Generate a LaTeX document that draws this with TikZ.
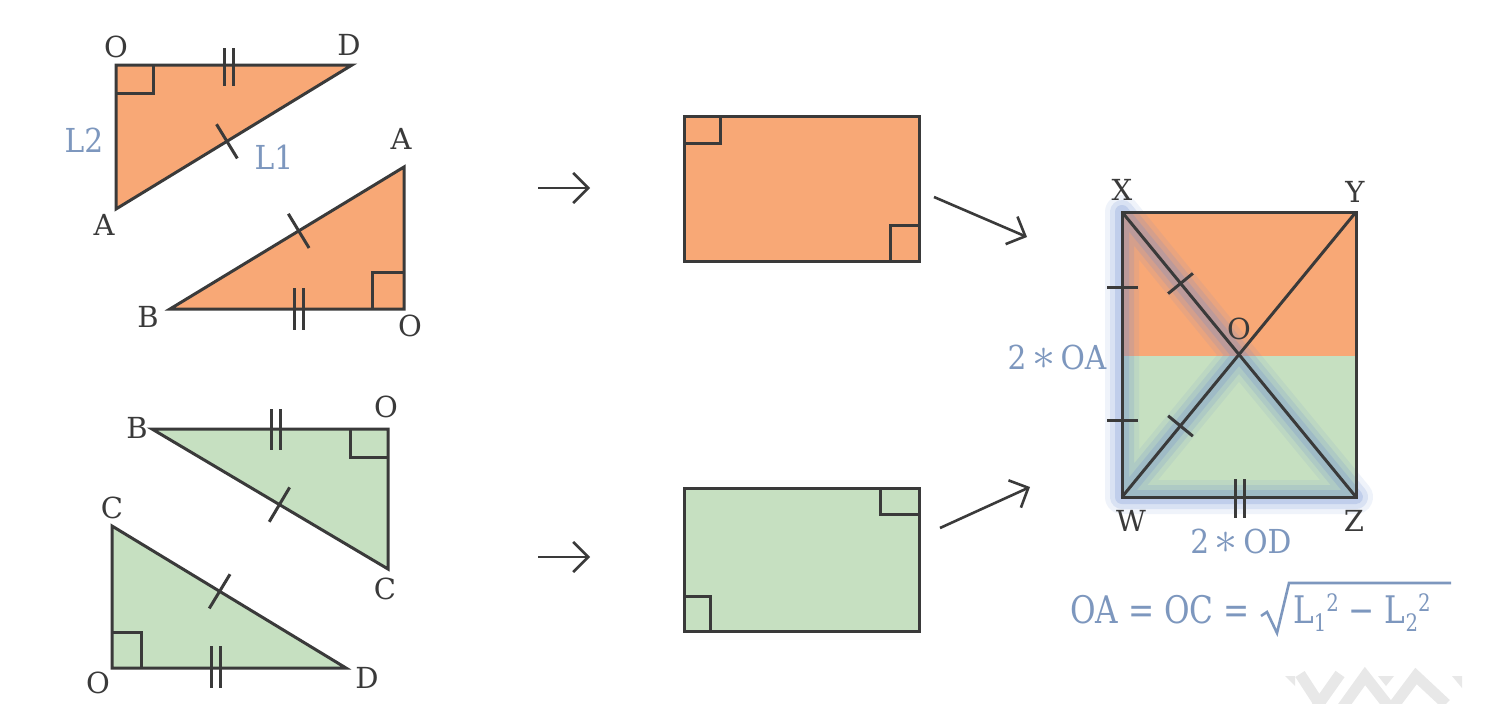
\RequirePackage{fix-cm}
\documentclass[tikz,border=0pt]{standalone}
\usepackage{fontspec}
\setmainfont{DejaVu Serif}
\newfontfamily\bluefont[FakeStretch=0.9]{DejaVu Serif}
\newfontfamily\formfont[FakeStretch=0.82]{DejaVu Serif}
\usetikzlibrary{calc,arrows.meta}
\definecolor{linec}{HTML}{3A3A3A}
\definecolor{orangef}{HTML}{F8A876}
\definecolor{greenf}{HTML}{C6E0C1}
\definecolor{bluel}{HTML}{7D97BE}
\definecolor{glowc}{HTML}{6A8AD0}
\definecolor{wmark}{HTML}{E8E8E8}
\tikzset{
  edge/.style={draw=linec, line width=3pt, line join=miter},
  tick/.style={draw=linec, line width=3pt},
  lbl/.style={text=linec, font=\fontsize{29}{33}\selectfont, inner sep=0pt},
  blbl/.style={text=bluel, font=\bluefont\fontsize{33}{37}\selectfont, inner sep=0pt},
  fml/.style={text=bluel, font=\formfont\fontsize{38}{42}\selectfont, inner sep=0pt},
  arr/.style={draw=linec, line width=2.6pt, -{Straight Barb[length=15pt,width=30pt,line width=2.6pt]}},
}
\newcommand{\scr}[2]{\raisebox{#1}{\fontsize{24}{24}\selectfont #2}}
\newcommand{\bigast}{\mbox{\fontsize{46}{46}\selectfont$\ast$}}
\begin{document}
\begin{tikzpicture}[x=1pt,y=-1pt]
\useasboundingbox (0,0) rectangle (1491,704);
\fill[white] (0,0) rectangle (1491,704);

% ---------- watermark ----------
\begin{scope}
\clip (0,0) rectangle (1491,704);
\draw[wmark, line width=11pt] (1300,674) -- (1322,708);
\draw[wmark, line width=11pt] (1316,708) -- (1340,674);
\draw[wmark, line width=11pt] (1342,708) -- (1365,676) -- (1390,708);
\draw[wmark, line width=11pt] (1392,708) -- (1416,676) -- (1446,704);
\fill[wmark] (1285,676) -- (1295,676) -- (1295,686) -- cycle;
\fill[wmark] (1378,676) -- (1394,676) -- (1386,686) -- cycle;
\fill[wmark] (1452,676) -- (1462,676) -- (1462,688) -- cycle;
\end{scope}

% ---------- triangle 1 (orange) ----------
\coordinate (O1) at (116,65); \coordinate (D1) at (352,65); \coordinate (A1) at (116,209);
\filldraw[fill=orangef, edge] (O1) -- (D1) -- (A1) -- cycle;
\draw[tick] (116,93) -- (153,93) -- (153,65);
\draw[tick] (224,48) -- (224,86); \draw[tick] (233,48) -- (233,86);
\coordinate (M1) at ($(D1)!0.53!(A1)$);
\draw[tick] ($(M1)!20pt!90:(A1)$) -- ($(M1)!20pt!-90:(A1)$);
\node[lbl] (lO1) at (116,47) {O};
\node[lbl] (lD1) at (349,45) {D};
\node[lbl] (lA1) at (104,225) {A};
\node[blbl] (lL2) at (84,140) {L2};
\node[blbl] (lL1) at (274,157) {L1};

% ---------- triangle 2 (orange) ----------
\coordinate (A2) at (404,167); \coordinate (O2) at (404,309); \coordinate (B2) at (170,309);
\filldraw[fill=orangef, edge] (A2) -- (O2) -- (B2) -- cycle;
\draw[tick] (372,309) -- (372,272) -- (404,272);
\draw[tick] (294,288) -- (294,330); \draw[tick] (303,288) -- (303,330);
\coordinate (M2) at ($(A2)!0.45!(B2)$);
\draw[tick] ($(M2)!20pt!90:(B2)$) -- ($(M2)!20pt!-90:(B2)$);
\node[lbl] (lA2) at (401,139) {A};
\node[lbl] (lB2) at (148,317) {B};
\node[lbl] (lO2) at (410,326) {O};

% ---------- triangle 3 (green) ----------
\coordinate (B3) at (152,429); \coordinate (O3) at (388,429); \coordinate (C3) at (388,569);
\filldraw[fill=greenf, edge] (B3) -- (O3) -- (C3) -- cycle;
\draw[tick] (350,429) -- (350,457) -- (388,457);
\draw[tick] (271,409) -- (271,450); \draw[tick] (280,409) -- (280,450);
\coordinate (M3) at ($(B3)!0.54!(C3)$);
\draw[tick] ($(M3)!20pt!90:(C3)$) -- ($(M3)!20pt!-90:(C3)$);
\node[lbl] (lB3) at (137,428) {B};
\node[lbl] (lO3) at (386,407) {O};
\node[lbl] (lC3) at (385,589) {C};

% ---------- triangle 4 (green) ----------
\coordinate (C4) at (112,526); \coordinate (O4) at (112,668); \coordinate (D4) at (346,668);
\filldraw[fill=greenf, edge] (C4) -- (O4) -- (D4) -- cycle;
\draw[tick] (112,632) -- (141,632) -- (141,668);
\draw[tick] (211,646) -- (211,688); \draw[tick] (220,646) -- (220,688);
\coordinate (M4) at ($(C4)!0.46!(D4)$);
\draw[tick] ($(M4)!20pt!90:(D4)$) -- ($(M4)!20pt!-90:(D4)$);
\node[lbl] (lC4) at (112,508) {C};
\node[lbl] (lO4) at (98,683) {O};
\node[lbl] (lD4) at (367,678) {D};

% ---------- horizontal arrows ----------
\coordinate (h1a) at (538,188); \coordinate (h1b) at (590,188);
\coordinate (h2a) at (538,557); \coordinate (h2b) at (590,557);
\draw[arr] (h1a) -- (h1b);
\draw[arr] (h2a) -- (h2b);

% ---------- rectangles ----------
\node[edge, fill=orangef, minimum width=235pt, minimum height=145pt, inner sep=0pt, anchor=north west] (R1) at (683,115) {};
\draw[tick] (683,143) -- (720,143) -- (720,115);
\draw[tick] (918,225) -- (890,225) -- (890,260);
\node[edge, fill=greenf, minimum width=235pt, minimum height=143pt, inner sep=0pt, anchor=north west] (R2) at (683,487) {};
\draw[tick] (880,487) -- (880,514) -- (918,514);
\draw[tick] (683,596) -- (710,596) -- (710,630);

% ---------- diagonal arrows ----------
\coordinate (d1a) at (934,197); \coordinate (d1b) at (1027,237);
\coordinate (d2a) at (940,528); \coordinate (d2b) at (1030,487);
\draw[arr] (d1a) -- (d1b);
\draw[arr] (d2a) -- (d2b);

% ---------- big rectangle ----------
\coordinate (X) at (1122,212); \coordinate (Y) at (1356,212);
\coordinate (Z) at (1356,497); \coordinate (W) at (1122,497);
\coordinate (O) at (1239,355);
\fill[orangef] (1122,212) rectangle (1356,356);
\fill[greenf] (1122,356) rectangle (1356,497);
% glow
\draw[glowc, opacity=0.10, line width=34pt, line join=round, line cap=round] (X) -- (W) -- (Z) -- (O) -- (X) (W) -- (O);
\draw[glowc, opacity=0.16, line width=24pt, line join=round, line cap=round] (X) -- (W) -- (Z) -- (O) -- (X) (W) -- (O);
\draw[glowc, opacity=0.22, line width=14pt, line join=round, line cap=round] (X) -- (W) -- (Z) -- (O) -- (X) (W) -- (O);
\draw[edge] (X) -- (Y) -- (Z) -- (W) -- cycle;
\draw[edge] (X) -- (Z);
\draw[edge] (W) -- (Y);
\draw[tick] (1107,287) -- (1138,287);
\draw[tick] (1107,420) -- (1138,420);
\coordinate (MX) at ($(X)!0.5!(O)$);
\draw[tick] ($(MX)!16pt!90:(O)$) -- ($(MX)!16pt!-90:(O)$);
\coordinate (MW) at ($(W)!0.5!(O)$);
\draw[tick] ($(MW)!16pt!90:(O)$) -- ($(MW)!16pt!-90:(O)$);
\draw[tick] (1235,479) -- (1235,518); \draw[tick] (1244,479) -- (1244,518);
\node[lbl] (lX) at (1122,190) {X};
\node[lbl] (lY) at (1355,192) {Y};
\node[lbl] (lO) at (1239,329) {O};
\node[lbl] (lW) at (1131,521) {W};
\node[lbl] (lZ) at (1354,521) {Z};
\node[blbl] (l2OA) at (1057,357) {2\,\bigast\,OA};
\node[blbl] (l2OD) at (1241,541) {2\,\bigast\,OD};

% ---------- formula ----------
\node[fml, anchor=base west] (formL) at (1070,623) {OA = OC =};
\draw[bluel, line width=2.6pt, line join=miter] (1261,616) -- (1267,612) -- (1277,633) -- (1289,583) -- (1451,583);
\node[fml, anchor=base west] (formR) at (1293,623) {L\scr{-8pt}{1}\scr{12pt}{2} − L\scr{-8pt}{2}\scr{12pt}{2}};
\end{tikzpicture}
\end{document}
